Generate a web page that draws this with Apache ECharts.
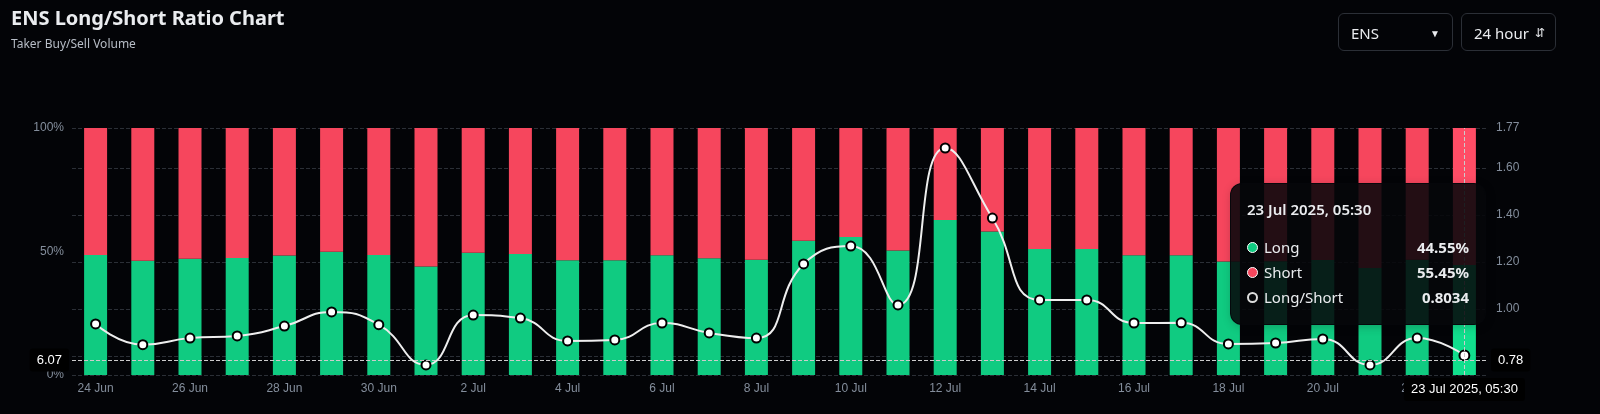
<!DOCTYPE html>
<html>
<head>
<meta charset="utf-8">
<script src="https://cdn.jsdelivr.net/npm/echarts@6/dist/echarts.min.js"></script>
<style>
	html, body { margin: 0; background: #030407; font-family: "Noto Sans", sans-serif; }
	#chart { width: 1600px; height: 414px; }
	.sel { position: absolute; top: 13px; height: 38px; border: 1px solid #2b2f36; border-radius: 6px;
		color: #eaecef; font-size: 15px; line-height: 38px; box-sizing: border-box; padding: 0 12px; }
</style>
</head>
<body>
<div id="chart"></div>
<div class="sel" style="left:1338px;width:115px;">ENS<span style="position:absolute;right:12px;font-size:10px;">&#9660;</span></div>
<div class="sel" style="left:1461px;width:95px;">24 hour<span style="position:absolute;right:10px;font-size:12px;">&#8693;</span></div>
<script>
// 日期
const days = ["24 Jun", "25 Jun", "26 Jun", "27 Jun", "28 Jun", "29 Jun", "30 Jun",
	"1 Jul", "2 Jul", "3 Jul", "4 Jul", "5 Jul", "6 Jul", "7 Jul", "8 Jul", "9 Jul",
	"10 Jul", "11 Jul", "12 Jul", "13 Jul", "14 Jul", "15 Jul", "16 Jul", "17 Jul",
	"18 Jul", "19 Jul", "20 Jul", "21 Jul", "22 Jul", "23 Jul"];
// 多头占比 %
const longPct = [48.6, 46.3, 47.1, 47.4, 48.4, 49.9, 48.6, 43.9, 49.5, 49.0,
	46.5, 46.5, 48.5, 47.3, 46.7, 54.4, 55.9, 50.4, 62.8, 58.1,
	51.0, 51.0, 48.5, 48.5, 46.0, 46.1, 46.6, 43.3, 46.7, 44.55];
// 空头占比 %
const shortPct = [51.4, 53.7, 52.9, 52.6, 51.6, 50.1, 51.4, 56.1, 50.5, 51.0,
	53.5, 53.5, 51.5, 52.7, 53.3, 45.6, 44.1, 49.6, 37.2, 41.9,
	49.0, 49.0, 51.5, 51.5, 54.0, 53.9, 53.4, 56.7, 53.3, 55.45];
// 多空比
const ratio = [0.937, 0.849, 0.877, 0.886, 0.928, 0.988, 0.934, 0.763, 0.975, 0.962,
	0.865, 0.869, 0.941, 0.899, 0.877, 1.192, 1.268, 1.018, 1.685, 1.387,
	1.039, 1.039, 0.941, 0.942, 0.852, 0.856, 0.873, 0.763, 0.877, 0.8034];
const ratioTicks = [1.0, 1.2, 1.4, 1.6, 1.77];

const labelColor = "#848e9c";
const chart = echarts.init(document.getElementById("chart"));

chart.setOption({
	backgroundColor: "#030407",
	title: {
		text: "ENS Long/Short Ratio Chart",
		subtext: "Taker Buy/Sell Volume",
		left: 6, top: 4, itemGap: 10,
		textStyle: { color: "#eaecef", fontSize: 20, fontWeight: "bold", fontFamily: "Noto Sans" },
		subtextStyle: { color: "#b7bdc6", fontSize: 12, fontFamily: "Noto Sans" }
	},
	grid: { left: 72, right: 112, top: 128, bottom: 39 },
	tooltip: {
		trigger: "axis",
		alwaysShowContent: true,
		position: [1230, 183],
		backgroundColor: "rgba(6,7,10,0.88)",
		borderColor: "rgba(6,7,10,0.88)",
		borderRadius: 12,
		padding: [14, 16],
		textStyle: { color: "#eaecef", fontSize: 15, fontFamily: "Noto Sans" },
		axisPointer: {
			type: "cross",
			lineStyle: { color: "#ccc", type: "dashed" },
			crossStyle: { color: "#ccc", type: "dashed" },
			label: { backgroundColor: "#000", color: "#fff", fontSize: 13 }
		},
		formatter: ps => {
			const i = ps[0].dataIndex;
			const dot = c => `<span style="display:inline-block;width:9px;height:9px;border-radius:50%;margin-right:6px;${c}"></span>`;
			const row = (d, n, v) => `<div style="display:flex;justify-content:space-between;width:222px;line-height:25px;"><span>${dot(d)}${n}</span><b>${v}</b></div>`;
			return `<div style="font-size:15px;margin-bottom:14px;font-weight:600;">${days[i]} 2025, 05:30</div>` +
				row("background:#10cb81;border:1px solid #fff", "Long", longPct[i].toFixed(2) + "%") +
				row("background:#f6465d;border:1px solid #fff", "Short", shortPct[i].toFixed(2) + "%") +
				row("border:2px solid #ddd;width:7px;height:7px", "Long/Short", ratio[i].toFixed(4));
		}
	},
	xAxis: {
		type: "category",
		data: days,
		axisLine: { show: false },
		axisTick: { show: false },
		axisLabel: { color: labelColor, fontSize: 12, interval: 1 },
		axisPointer: {
			label: { formatter: p => p.value + " 2025, 05:30", backgroundColor: "#000", fontSize: 13 }
		}
	},
	yAxis: [{
		type: "value", min: 0, max: 100, interval: 50,
		axisLabel: { color: labelColor, fontSize: 12, formatter: "{value}%" },
		splitLine: { show: false },
		axisPointer: { label: { formatter: p => p.value.toFixed(2) } }
	}, {
		type: "value", min: 0.72, max: 1.77,
		axisLabel: { color: labelColor, fontSize: 12, customValues: ratioTicks, formatter: v => v.toFixed(2) },
		axisTick: { show: false },
		splitLine: { show: true, customValues: [0.72, 1.0, 1.2, 1.4, 1.6, 1.77],
			lineStyle: { color: "#2b2f36", type: "dashed" } },
		axisPointer: { label: { formatter: p => p.value.toFixed(2) } }
	}],
	series: [{
		name: "Long", type: "bar", stack: "ls", data: longPct, barWidth: 23,
		itemStyle: { color: "#10cb81" }
	}, {
		name: "Short", type: "bar", stack: "ls", data: shortPct, barWidth: 23,
		itemStyle: { color: "#f6465d" }
	}, {
		name: "Long/Short", type: "line", yAxisIndex: 1, data: ratio, smooth: true,
		symbol: "circle", symbolSize: 9,
		lineStyle: { color: "#d9d9d9", width: 2 },
		itemStyle: { color: "#fff", borderColor: "#000", borderWidth: 2 }
	}]
});

chart.dispatchAction({ type: "showTip", x: 1473, y: 360 });
window.addEventListener("resize", chart.resize);
</script>
</body>
</html>
